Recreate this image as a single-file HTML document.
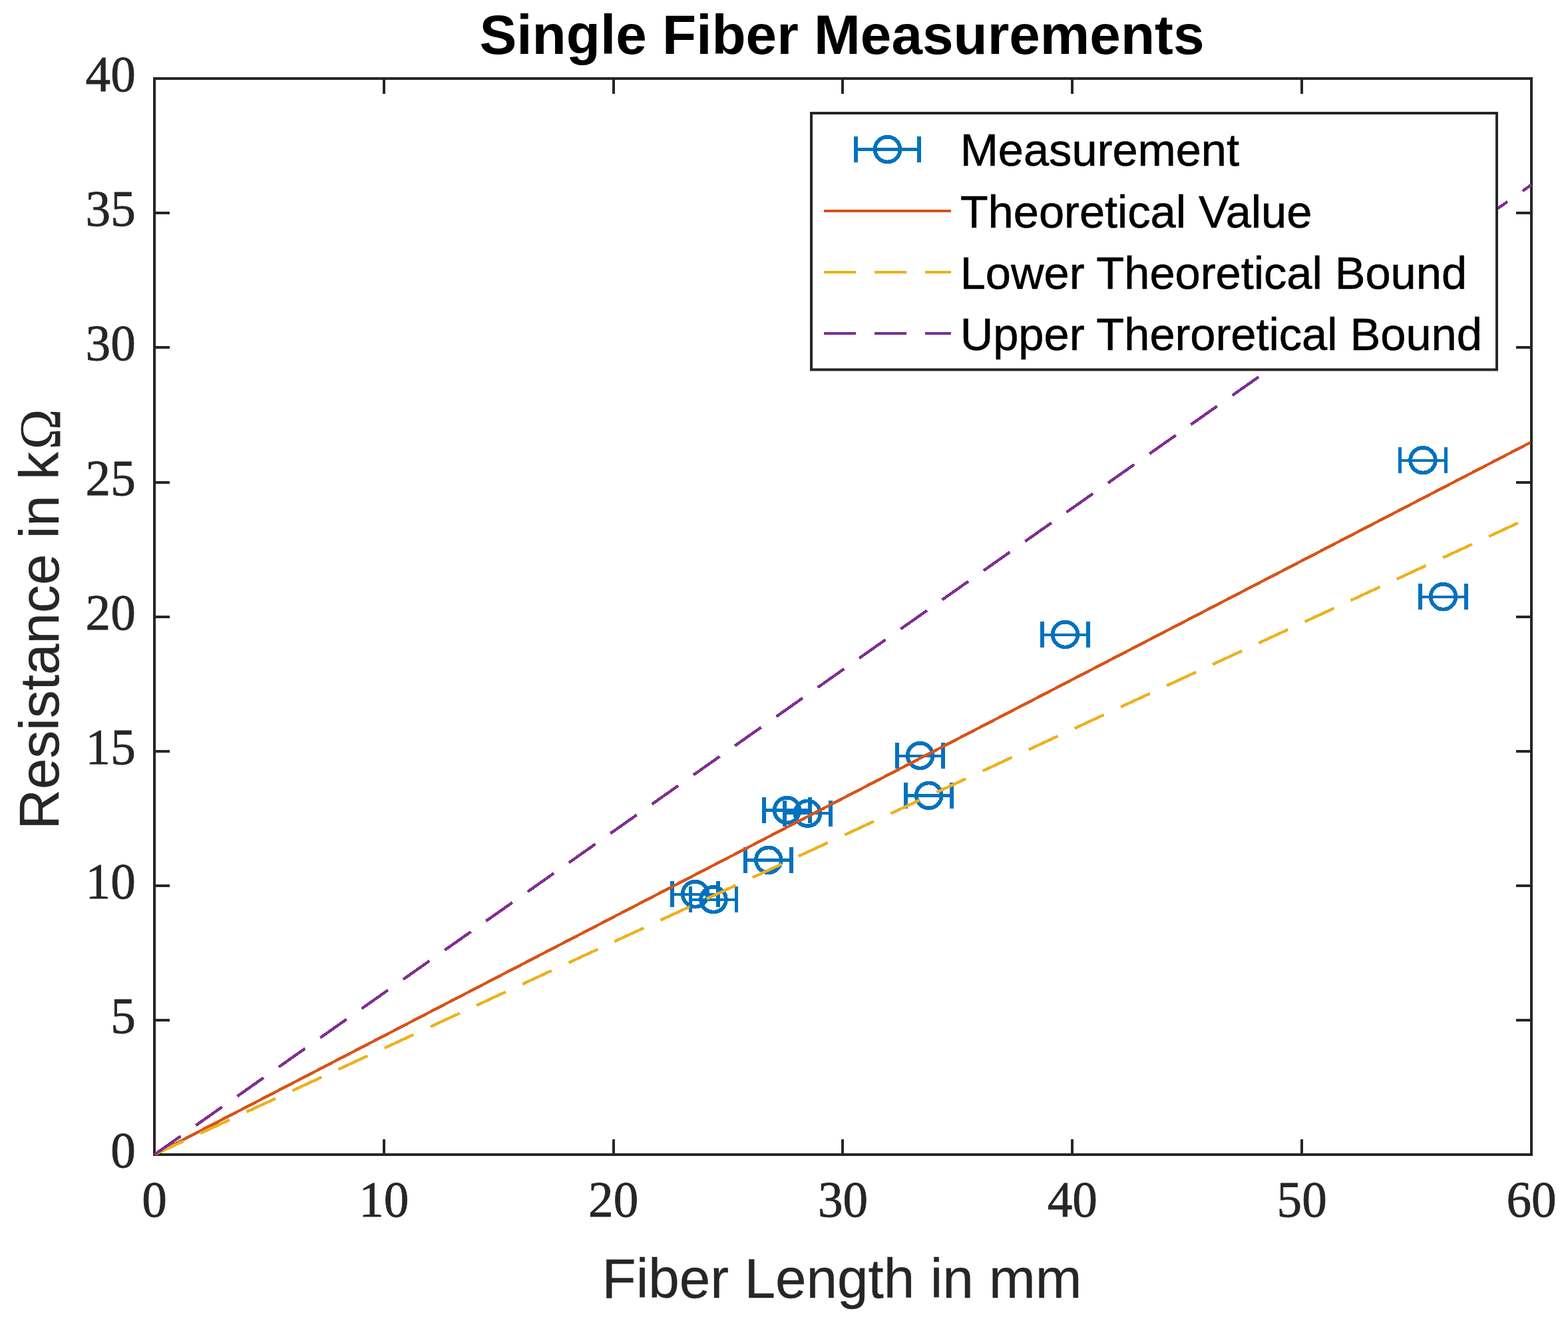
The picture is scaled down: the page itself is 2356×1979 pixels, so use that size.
<!DOCTYPE html>
<html lang="en"><head><meta charset="utf-8"><title>Single Fiber Measurements</title>
<style>html,body{margin:0;padding:0;background:#fff;overflow:hidden}svg{display:block}svg{font-family:"Liberation Sans",Arial,Helvetica,sans-serif}.tk{font-family:"Liberation Serif","Times New Roman",serif;font-size:75.2px;fill:#262626;stroke:#262626;stroke-width:0.8px}.lb{font-size:83.7px;fill:#262626;stroke:#262626;stroke-width:0.3px}.om{font-family:"Liberation Serif","Times New Roman",serif;font-size:89.5px;fill:#262626;stroke:none}.lg{font-size:68.6px;fill:#000;stroke:#000;stroke-width:0.6px}</style></head><body>
<svg width="2356" height="1979" viewBox="0 0 2356 1979" role="img" aria-label="Single Fiber Measurements chart">
<rect x="0" y="0" width="2356" height="1979" fill="#ffffff"/>
<defs><clipPath id="ax"><rect x="231" y="118" width="2071.2" height="1618.5"/></clipPath></defs>
<text x="1265" y="81.4" text-anchor="middle" font-weight="bold" font-size="83.75" fill="#000">Single Fiber Measurements</text>
<g stroke="#262626" stroke-width="4" fill="none" stroke-linecap="butt">
<rect x="232" y="118" width="2069" height="1617" stroke-linejoin="miter"/>
<path d="M577.00 1735 V1712 M577.00 118 V141 M922.00 1735 V1712 M922.00 118 V141 M1266.00 1735 V1712 M1266.00 118 V141 M1611.00 1735 V1712 M1611.00 118 V141 M1956.00 1735 V1712 M1956.00 118 V141 M232 1533.00 H255 M2301 1533.00 H2278 M232 1331.00 H255 M2301 1331.00 H2278 M232 1129.00 H255 M2301 1129.00 H2278 M232 927.00 H255 M2301 927.00 H2278 M232 725.00 H255 M2301 725.00 H2278 M232 522.00 H255 M2301 522.00 H2278 M232 320.00 H255 M2301 320.00 H2278"/>
</g>
<g class="tk" text-anchor="middle">
<text x="232.00" y="1828.3">0</text>
<text x="576.83" y="1828.3">10</text>
<text x="921.67" y="1828.3">20</text>
<text x="1266.50" y="1828.3">30</text>
<text x="1611.33" y="1828.3">40</text>
<text x="1956.17" y="1828.3">50</text>
<text x="2301.00" y="1828.3">60</text>
</g>
<g class="tk" text-anchor="end">
<text x="203.8" y="1754.20">0</text>
<text x="203.8" y="1552.08">5</text>
<text x="203.8" y="1349.95">10</text>
<text x="203.8" y="1147.83">15</text>
<text x="203.8" y="945.70">20</text>
<text x="203.8" y="743.58">25</text>
<text x="203.8" y="541.45">30</text>
<text x="203.8" y="339.32">35</text>
<text x="203.8" y="137.20">40</text>
</g>
<text class="lb" x="1265" y="1949.9" text-anchor="middle">Fiber Length in mm</text>
<text class="lb" transform="translate(87.9 1246.5) rotate(-90)">Resistance in k<tspan class="om" dx="3.6" dy="1.8" textLength="61" lengthAdjust="spacingAndGlyphs">Ω</tspan></text>
<g clip-path="url(#ax)" fill="none" shape-rendering="crispEdges">
<g stroke="#0072BD">
<path stroke-width="4.2" d="M1010.0 1343.7 H1079.0 M1037.5 1351.7 H1106.5 M1120.3 1292.4 H1189.3 M1148.0 1217.5 H1217.0 M1179.0 1222.3 H1248.0 M1348.0 1135.6 H1417.0 M1361.2 1195.4 H1430.2 M1566.0 953.6 H1635.0 M2103.5 691.6 H2172.5 M2134.0 896.7 H2203.0"/>
<path stroke-width="5.9" d="M1010.0 1324.2 V1363.2 M1079.0 1324.2 V1363.2 M1037.5 1332.2 V1371.2 M1106.5 1332.2 V1371.2 M1120.3 1272.9 V1311.9 M1189.3 1272.9 V1311.9 M1148.0 1198.0 V1237.0 M1217.0 1198.0 V1237.0 M1179.0 1202.8 V1241.8 M1248.0 1202.8 V1241.8 M1348.0 1116.1 V1155.1 M1417.0 1116.1 V1155.1 M1361.2 1175.9 V1214.9 M1430.2 1175.9 V1214.9 M1566.0 934.1 V973.1 M1635.0 934.1 V973.1 M2103.5 672.1 V711.1 M2172.5 672.1 V711.1 M2134.0 877.2 V916.2 M2203.0 877.2 V916.2"/>
<circle cx="1044.5" cy="1343.7" r="18.9" stroke-width="5.8"/>
<circle cx="1072.0" cy="1351.7" r="18.9" stroke-width="5.8"/>
<circle cx="1154.8" cy="1292.4" r="18.9" stroke-width="5.8"/>
<circle cx="1182.5" cy="1217.5" r="18.9" stroke-width="5.8"/>
<circle cx="1213.5" cy="1222.3" r="18.9" stroke-width="5.8"/>
<circle cx="1382.5" cy="1135.6" r="18.9" stroke-width="5.8"/>
<circle cx="1395.7" cy="1195.4" r="18.9" stroke-width="5.8"/>
<circle cx="1600.5" cy="953.6" r="18.9" stroke-width="5.8"/>
<circle cx="2138.0" cy="691.6" r="18.9" stroke-width="5.8"/>
<circle cx="2168.5" cy="896.7" r="18.9" stroke-width="5.8"/>
</g>
<line x1="232" y1="1735" x2="2299.6" y2="664.87" stroke="#D95319" stroke-width="4.35"/>
<line x1="232" y1="1735" x2="2301" y2="776.52" stroke="#EDB120" stroke-width="4.35" stroke-dasharray="48.3 27.9"/>
<line x1="232" y1="1735" x2="2301" y2="277.68" stroke="#7E2F8E" stroke-width="4.35" stroke-dasharray="48.3 27.9"/>
</g>
<rect x="1219" y="170" width="1030" height="385.5" fill="#fff" stroke="#262626" stroke-width="4"/>
<g fill="none" shape-rendering="crispEdges">
<path stroke="#0072BD" stroke-width="4.7" d="M1286 224.5 H1381"/>
<path stroke="#0072BD" stroke-width="5.9" d="M1286 205 V244 M1381 205 V244"/>
<circle cx="1333.5" cy="224.5" r="18.9" stroke="#0072BD" stroke-width="5.8"/>
<path stroke="#D95319" stroke-width="4" d="M1238 317 H1429"/>
<path stroke="#EDB120" stroke-width="4" stroke-dasharray="48 28" d="M1238 409.1 H1429"/>
<path stroke="#7E2F8E" stroke-width="4" stroke-dasharray="48 28" d="M1238 500.9 H1429"/>
</g>
<g class="lg">
<text x="1442.7" y="248.8">Measurement</text>
<text x="1442.7" y="341.7">Theoretical Value</text>
<text x="1442.7" y="433.5">Lower Theoretical Bound</text>
<text x="1442.7" y="525.6">Upper Theroretical Bound</text>
</g>
</svg></body></html>
